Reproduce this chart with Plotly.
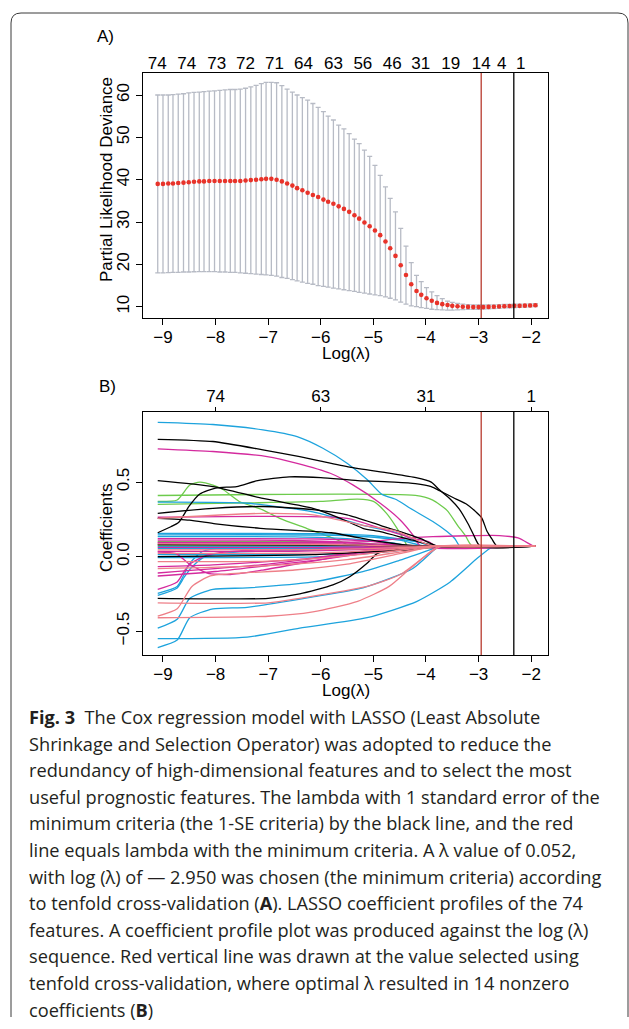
import plotly.graph_objects as go

# ---------------- DATA ----------------
# Panel A: cross-validation curve
log_lambda = [
    -9.10, -9.00, -8.90, -8.81, -8.71, -8.61, -8.51, -8.41, -8.31, -8.22,
    -8.12, -8.02, -7.92, -7.82, -7.72, -7.63, -7.53, -7.43, -7.33, -7.23,
    -7.13, -7.04, -6.94, -6.84, -6.74, -6.64, -6.54, -6.45, -6.35, -6.25,
    -6.15, -6.05, -5.95, -5.86, -5.76, -5.66, -5.56, -5.46, -5.36, -5.27,
    -5.17, -5.07, -4.97, -4.87, -4.77, -4.68, -4.58, -4.48, -4.38, -4.28,
    -4.18, -4.09, -3.99, -3.89, -3.79, -3.69, -3.59, -3.50, -3.40, -3.30,
    -3.20, -3.10, -3.00, -2.91, -2.81, -2.71, -2.61, -2.51, -2.41, -2.32,
    -2.22, -2.12, -2.02, -1.92]
cv_mean = [
    39.0, 39.0, 39.1, 39.1, 39.2, 39.3, 39.4, 39.5, 39.6, 39.6,
    39.7, 39.7, 39.7, 39.7, 39.7, 39.7, 39.7, 39.8, 39.9, 40.0,
    40.1, 40.2, 40.2, 40.0, 39.6, 39.1, 38.6, 38.0, 37.5, 36.9,
    36.4, 35.9, 35.3, 34.8, 34.3, 33.7, 33.1, 32.4, 31.6, 30.8,
    29.9, 29.0, 28.0, 26.9, 25.4, 23.8, 22.0, 19.8, 17.5, 15.3,
    13.7, 12.8, 12.0, 11.4, 10.9, 10.6, 10.4, 10.2, 10.1, 10.0,
    9.95, 9.9, 9.9, 9.9, 9.95, 10.0, 10.05, 10.1, 10.15, 10.2,
    10.2, 10.25, 10.3, 10.35]
cv_upper = [
    60.0, 60.0, 60.0, 60.1, 60.2, 60.3, 60.5, 60.6, 60.7, 60.8,
    60.9, 61.0, 61.1, 61.2, 61.3, 61.3, 61.4, 61.6, 61.9, 62.3,
    62.7, 63.0, 63.0, 62.9, 62.2, 61.4, 60.7, 60.0, 59.4, 58.8,
    58.0, 57.1, 56.1, 55.0, 54.1, 52.9, 52.0, 50.9, 49.6, 48.5,
    47.0, 45.5, 43.4, 41.0, 38.3, 35.6, 32.4, 28.5, 24.3, 20.4,
    17.4, 15.9, 14.5, 13.5, 12.6, 11.9, 11.3, 11.0, 10.8, 10.6,
    10.5, 10.4, 10.4, 10.4, 10.4, 10.45, 10.5, 10.55, 10.55, 10.6,
    10.6, 10.6, 10.65, 10.7]
cv_lower = [
    18.0, 18.0, 18.05, 18.1, 18.1, 18.2, 18.2, 18.25, 18.3, 18.3,
    18.3, 18.3, 18.2, 18.2, 18.1, 18.1, 18.0, 17.9, 17.8, 17.7,
    17.6, 17.5, 17.4, 17.2, 16.9, 16.7, 16.4, 16.1, 15.8, 15.5,
    15.3, 15.0, 14.8, 14.6, 14.4, 14.2, 14.0, 13.8, 13.6, 13.4,
    13.2, 13.0, 12.8, 12.6, 12.3, 12.0, 11.6, 11.1, 10.6, 10.2,
    10.0, 9.8, 9.6, 9.4, 9.3, 9.25, 9.2, 9.2, 9.25, 9.3,
    9.35, 9.4, 9.4, 9.45, 9.5, 9.55, 9.6, 9.7, 9.75, 9.8,
    9.85, 9.9, 9.95, 10.0]
df_top_pos_A = [-9.11, -8.55, -7.98, -7.43, -6.88, -6.33, -5.76, -5.20, -4.64, -4.10, -3.53, -2.95, -2.56, -2.20]
df_top_lab_A = ["74", "74", "73", "72", "71", "64", "63", "56", "46", "31", "19", "14", "4", "1"]
x_ticks = [-9, -8, -7, -6, -5, -4, -3, -2]
yA_ticks = [10, 20, 30, 40, 50, 60]
lambda_min_log = -2.95
lambda_1se_log = -2.33

# Panel B: coefficient profiles, (log lambda, coefficient) pairs per path
zero_level = 0.07
path_end_log = -1.92
black_paths = [
    [(-9.1, 0.787), (-8.05, 0.772), (-7.1, 0.716), (-6.4, 0.67), (-6.0, 0.64), (-5.45, 0.60), (-4.7, 0.56),
     (-4.19, 0.53), (-3.9, 0.50), (-3.75, 0.45), (-3.55, 0.39), (-3.37, 0.32), (-3.2, 0.22), (-3.1, 0.15), (-2.97, 0.07)],
    [(-9.1, 0.16), (-8.85, 0.20), (-8.7, 0.23), (-8.5, 0.34), (-8.3, 0.42), (-8.0, 0.46), (-7.6, 0.47), (-7.2, 0.51),
     (-6.6, 0.535), (-6.0, 0.53), (-5.3, 0.51), (-4.6, 0.50), (-4.2, 0.49), (-3.9, 0.47), (-3.73, 0.44), (-3.45, 0.39),
     (-3.22, 0.35), (-3.05, 0.30), (-2.94, 0.26), (-2.84, 0.17), (-2.75, 0.12), (-2.65, 0.07)],
    [(-9.1, 0.51), (-8.05, 0.47), (-7.1, 0.39), (-6.15, 0.324), (-5.63, 0.257), (-5.2, 0.19), (-4.87, 0.167),
     (-4.25, 0.11), (-3.77, 0.07)],
    [(-9.1, 0.29), (-8.05, 0.324), (-7.1, 0.336), (-6.15, 0.315), (-5.5, 0.28), (-4.87, 0.21), (-4.49, 0.168),
     (-4.1, 0.12), (-3.77, 0.07)],
    [(-9.1, 0.257), (-8.5, 0.245), (-8.0, 0.22), (-7.15, 0.19), (-5.8, 0.16), (-4.87, 0.10), (-4.1, 0.07)],
    [(-9.1, 0.0), (-6.15, 0.013), (-5.0, 0.034), (-4.25, 0.047), (-3.77, 0.07)],
    [(-9.1, -0.28), (-7.0, -0.28), (-6.4, -0.25), (-5.77, -0.19), (-5.45, -0.135), (-5.12, -0.045), (-4.93, 0.02),
     (-4.55, 0.05), (-4.1, 0.07)],
    [(-9.1, 0.08), (-5.5, 0.078), (-4.3, 0.07)],
]
blue_paths = [
    [(-9.1, 0.90), (-8.05, 0.886), (-7.1, 0.85), (-6.45, 0.805), (-5.96, 0.727), (-5.5, 0.626), (-5.12, 0.517),
     (-4.84, 0.418), (-4.55, 0.38), (-4.3, 0.324), (-3.87, 0.235), (-3.6, 0.168), (-3.45, 0.12), (-3.35, 0.07)],
    [(-9.1, 0.365), (-7.4, 0.358), (-6.15, 0.30), (-5.2, 0.21), (-4.55, 0.16), (-4.2, 0.11), (-3.9, 0.07)],
    [(-9.1, 0.156), (-6.0, 0.154), (-5.0, 0.14), (-4.2, 0.10), (-3.8, 0.07)],
    [(-9.1, 0.146), (-6.0, 0.145), (-5.2, 0.135), (-4.5, 0.11), (-4.0, 0.07)],
    [(-9.1, 0.134), (-6.5, 0.132), (-5.5, 0.12), (-4.6, 0.09), (-4.3, 0.07)],
    [(-9.1, 0.068), (-5.0, 0.069), (-4.0, 0.07)],
    [(-9.1, 0.055), (-6.0, 0.056), (-4.5, 0.065), (-3.9, 0.07)],
    [(-9.1, 0.013), (-6.0, 0.016), (-4.8, 0.04), (-3.75, 0.07)],
    [(-9.1, -0.007), (-6.0, 0.0), (-4.8, 0.03), (-3.75, 0.07)],
    [(-9.1, -0.246), (-8.73, -0.20), (-8.6, -0.12), (-8.49, -0.045), (-8.25, 0.034), (-7.8, 0.06), (-6.0, 0.065),
     (-4.5, 0.07)],
    [(-9.1, -0.26), (-8.73, -0.21), (-8.6, -0.14), (-8.45, -0.07), (-8.2, 0.0), (-7.6, 0.03), (-6.5, 0.04),
     (-5.0, 0.055), (-3.8, 0.07)],
    [(-9.1, -0.48), (-8.73, -0.42), (-8.49, -0.28), (-8.05, -0.22), (-7.4, -0.21), (-6.15, -0.17), (-5.2, -0.10),
     (-4.55, -0.03), (-3.8, 0.06), (-3.7, 0.07)],
    [(-9.1, -0.55), (-7.4, -0.54), (-6.4, -0.48), (-5.12, -0.41), (-4.17, -0.30), (-3.54, -0.17), (-3.02, -0.01),
     (-2.78, 0.056), (-2.7, 0.07)],
    [(-9.1, -0.61), (-8.73, -0.56), (-8.49, -0.41), (-8.05, -0.35), (-7.4, -0.34), (-6.15, -0.27), (-5.2, -0.21),
     (-4.25, -0.08), (-3.79, 0.06), (-3.7, 0.07)],
]
magenta_paths = [
    [(-9.1, 0.723), (-8.05, 0.705), (-7.02, 0.671), (-6.45, 0.626), (-5.82, 0.559), (-5.39, 0.481), (-4.87, 0.358),
     (-4.49, 0.246), (-4.25, 0.146), (-4.1, 0.07)],
    [(-9.1, 0.264), (-5.5, 0.257), (-4.87, 0.19), (-4.25, 0.123), (-3.95, 0.10), (-3.8, 0.07)],
    [(-9.1, 0.095), (-6.0, 0.095), (-5.1, 0.10), (-4.5, 0.12), (-3.87, 0.134), (-3.2, 0.14), (-2.6, 0.141),
     (-2.25, 0.125), (-1.95, 0.07)],
    [(-9.1, 0.12), (-6.0, 0.118), (-5.0, 0.10), (-4.4, 0.07)],
    [(-9.1, 0.11), (-6.5, 0.108), (-5.3, 0.09), (-4.7, 0.07)],
    [(-9.1, 0.09), (-5.0, 0.085), (-4.0, 0.07)],
    [(-9.1, 0.062), (-6.0, 0.062), (-4.5, 0.068), (-3.9, 0.07)],
    [(-9.1, 0.035), (-6.5, 0.036), (-5.0, 0.05), (-3.8, 0.07)],
    [(-9.1, -0.22), (-8.73, -0.17), (-8.6, -0.10), (-8.49, -0.05), (-8.16, 0.01), (-7.5, 0.04), (-6.0, 0.05),
     (-4.6, 0.065), (-3.8, 0.07)],
    [(-9.1, 0.03), (-8.75, 0.02), (-8.5, -0.05), (-8.16, -0.11), (-7.72, -0.12), (-7.1, -0.09), (-6.15, -0.03),
     (-5.2, 0.03), (-4.5, 0.06), (-3.8, 0.07)],
    [(-9.1, -0.067), (-8.05, -0.055), (-7.02, -0.034), (-6.15, -0.01), (-5.2, 0.034), (-4.25, 0.056), (-3.8, 0.07)],
    [(-9.1, -0.11), (-7.0, -0.05), (-5.9, 0.0), (-4.9, 0.05), (-3.9, 0.07)],
    [(-9.1, -0.13), (-8.0, -0.10), (-7.0, -0.06), (-6.0, -0.02), (-5.0, 0.03), (-4.0, 0.07)],
]
green_paths = [
    [(-9.1, 0.41), (-4.2, 0.41), (-3.88, 0.38), (-3.6, 0.31), (-3.4, 0.21), (-3.25, 0.14), (-3.12, 0.07)],
    [(-9.1, 0.37), (-8.73, 0.38), (-8.49, 0.48), (-8.3, 0.50), (-8.05, 0.48), (-7.86, 0.45), (-7.55, 0.37),
     (-7.15, 0.32), (-6.78, 0.257), (-6.27, 0.19), (-5.76, 0.123), (-5.5, 0.08), (-5.45, 0.07)],
    [(-9.1, 0.35), (-7.4, 0.36), (-6.0, 0.37), (-5.3, 0.385), (-5.0, 0.37), (-4.75, 0.29), (-4.55, 0.19),
     (-4.4, 0.10), (-4.35, 0.07)],
    [(-9.1, 0.10), (-6.0, 0.10), (-5.0, 0.085), (-4.5, 0.07)],
    [(-9.1, 0.076), (-5.0, 0.074), (-4.0, 0.07)],
]
salmon_paths = [
    [(-9.1, 0.257), (-7.1, 0.29), (-6.15, 0.28), (-5.2, 0.21), (-4.55, 0.17), (-4.1, 0.10), (-3.85, 0.07)],
    [(-9.1, -0.31), (-7.0, -0.31), (-6.4, -0.28), (-5.12, -0.20), (-4.49, -0.12), (-3.98, 0.013), (-3.79, 0.056),
     (-3.7, 0.07)],
    [(-9.1, -0.41), (-7.0, -0.40), (-6.15, -0.37), (-5.3, -0.30), (-4.7, -0.20), (-4.3, -0.08), (-3.85, 0.05),
     (-3.75, 0.07)],
    [(-9.1, -0.40), (-8.73, -0.35), (-8.45, -0.20), (-8.1, -0.13), (-7.5, -0.11), (-6.5, -0.09), (-5.5, -0.05),
     (-4.5, 0.02), (-3.8, 0.07)],
    [(-9.1, 0.085), (-6.0, 0.083), (-4.5, 0.07)],
    [(-9.1, 0.045), (-6.0, 0.047), (-4.5, 0.06), (-3.8, 0.07)],
    [(-9.1, 0.022), (-6.0, 0.025), (-4.8, 0.045), (-3.8, 0.07)],
    [(-9.1, -0.034), (-7.0, -0.03), (-6.0, -0.01), (-4.8, 0.03), (-3.75, 0.07)],
    [(-9.1, -0.08), (-7.0, -0.06), (-5.5, -0.02), (-4.5, 0.03), (-3.75, 0.07)],
]
df_top_pos_B = [-8, -6, -4, -2]
df_top_lab_B = ["74", "63", "31", "1"]
yB_ticks = [-0.5, 0.0, 0.5]

caption_lines = [
    "<b>Fig. 3</b>\u00a0 The Cox regression model with LASSO (Least Absolute",
    "Shrinkage and Selection Operator) was adopted to reduce the",
    "redundancy of high-dimensional features and to select the most",
    "useful prognostic features. The lambda with 1 standard error of the",
    "minimum criteria (the 1-SE criteria) by the black line, and the red",
    "line equals lambda with the minimum criteria. A \u03bb value of 0.052,",
    "with log (\u03bb) of \u2014 2.950 was chosen (the minimum criteria) according",
    "to tenfold cross-validation (<b>A</b>). LASSO coefficient profiles of the 74",
    "features. A coefficient profile plot was produced against the log (\u03bb)",
    "sequence. Red vertical line was drawn at the value selected using",
    "tenfold cross-validation, where optimal \u03bb resulted in 14 nonzero",
    "coefficients (<b>B</b>)",
]

# ---------------- LAYOUT HELPERS ----------------
W, H = 629, 1029
def px(x):
    return x / W
def py(y):
    return 1 - y / H

XL, XR = 143, 548
A_T, A_B = 73, 318
B_T, B_B = 412, 655
XRANGE = [-9.38, -1.68]
FONT = "Liberation Sans, Arial, sans-serif"
COL = {"black": "#000000", "blue": "#1DA3DD", "magenta": "#D42A9E",
       "green": "#6DCB4C", "salmon": "#EE7F88"}

fig = go.Figure()

# Panel A
fig.add_trace(go.Scatter(
    x=log_lambda, y=cv_mean, mode="markers",
    marker=dict(color="#E8332A", size=4.6),
    error_y=dict(type="data", symmetric=False,
                 array=[u - m for u, m in zip(cv_upper, cv_mean)],
                 arrayminus=[m - l for m, l in zip(cv_mean, cv_lower)],
                 color="#B7BBC5", thickness=1.3, width=2.5),
    xaxis="x", yaxis="y", showlegend=False, hoverinfo="skip"))
fig.add_trace(go.Scatter(x=df_top_pos_A, y=[None] * len(df_top_pos_A), mode="markers",
                         xaxis="x3", yaxis="y", showlegend=False, hoverinfo="skip"))

# Panel B
def add_paths(paths, color):
    for p in paths:
        xs = [a for a, _ in p] + [path_end_log]
        ys = [b for _, b in p] + [zero_level]
        fig.add_trace(go.Scatter(x=xs, y=ys, mode="lines",
                                 line=dict(color=color, width=1.3, shape="spline", smoothing=0.6),
                                 xaxis="x2", yaxis="y2", showlegend=False, hoverinfo="skip"))

add_paths(green_paths, COL["green"])
add_paths(blue_paths, COL["blue"])
add_paths(magenta_paths, COL["magenta"])
add_paths(black_paths, COL["black"])
add_paths(salmon_paths, COL["salmon"])
fig.add_trace(go.Scatter(x=df_top_pos_B, y=[None] * len(df_top_pos_B), mode="markers",
                         xaxis="x4", yaxis="y2", showlegend=False, hoverinfo="skip"))

axis_common = dict(showgrid=False, zeroline=False, showline=True, linecolor="black", linewidth=1.3,
                   ticks="outside", tickcolor="black", tickwidth=1.3, ticklen=6,
                   tickfont=dict(family=FONT, size=17, color="black"))

fig.update_layout(
    width=W, height=H, margin=dict(l=0, r=0, t=0, b=0),
    paper_bgcolor="white", plot_bgcolor="white",
    xaxis=dict(domain=[px(XL), px(XR)], range=XRANGE, tickvals=x_ticks, anchor="y", mirror=True,
               ticklabelstandoff=-3, **axis_common),
    yaxis=dict(domain=[py(A_B), py(A_T)], range=[7.33, 65.2], tickvals=yA_ticks, tickangle=-90,
               anchor="x", mirror=True, **axis_common),
    xaxis3=dict(overlaying="x", side="top", anchor="y", range=XRANGE, tickvals=df_top_pos_A,
                ticktext=df_top_lab_A, ticks="", showline=False, showgrid=False, zeroline=False,
                tickfont=dict(family=FONT, size=17, color="black")),
    xaxis2=dict(domain=[px(XL), px(XR)], range=XRANGE, tickvals=x_ticks, anchor="y2", mirror=True,
                ticklabelstandoff=-3, **axis_common),
    yaxis2=dict(domain=[py(B_B), py(B_T)], range=[-0.66, 0.97], tickvals=yB_ticks, tickformat=".1f",
                tickangle=-90, anchor="x2", mirror=True, **axis_common),
    xaxis4=dict(overlaying="x2", side="top", anchor="y2", range=XRANGE, tickvals=df_top_pos_B,
                ticktext=df_top_lab_B, ticks="outside", ticklen=4, tickwidth=1.3, tickcolor="black",
                ticklabelstandoff=-2, showline=False, showgrid=False, zeroline=False,
                tickfont=dict(family=FONT, size=17, color="black")),
)

# vertical reference lines
for xr, yr in (("x", "y"), ("x2", "y2")):
    fig.add_shape(type="line", xref=xr, yref=yr + " domain", x0=lambda_min_log, x1=lambda_min_log,
                  y0=0, y1=1, line=dict(color="#B83A2E", width=1.3))
    fig.add_shape(type="line", xref=xr, yref=yr + " domain", x0=lambda_1se_log, x1=lambda_1se_log,
                  y0=0, y1=1, line=dict(color="black", width=1.3))

# frame (rounded border)
r = 10
L, T, R, Bt = 11, 13, 628, 1017
path = (f"M {px(L)},{py(Bt)} L {px(L)},{py(T + r)} Q {px(L)},{py(T)} {px(L + r)},{py(T)} "
        f"L {px(R - r)},{py(T)} Q {px(R)},{py(T)} {px(R)},{py(T + r)} L {px(R)},{py(Bt)}")
fig.add_shape(type="path", xref="paper", yref="paper", path=path, line=dict(color="#3a3a3a", width=1))

def ann(text, x, y, size=17, xanchor="center", angle=0, family=FONT, color="black"):
    fig.add_annotation(text=text, x=px(x), y=py(y), xref="paper", yref="paper", showarrow=False,
                       xanchor=xanchor, yanchor="middle", textangle=angle,
                       font=dict(family=family, size=size, color=color))

ann("A)", 95, 37, xanchor="left")
ann("B)", 97, 386, xanchor="left")
ann("Partial Likelihood Deviance", 106, 180, angle=-90)
ann("Coefficients", 106, 528, angle=-90)
ann("Log(\u03bb)", (XL + XR) / 2, 353)
ann("Log(\u03bb)", (XL + XR) / 2, 690)

cap_y0, cap_dy = 717, 26.6
for i, line in enumerate(caption_lines):
    ann(line, 27, cap_y0 + i * cap_dy, size=18.2, xanchor="left", family="Open Sans, sans-serif",
        color="#231F20")

fig.write_html("out.html")
